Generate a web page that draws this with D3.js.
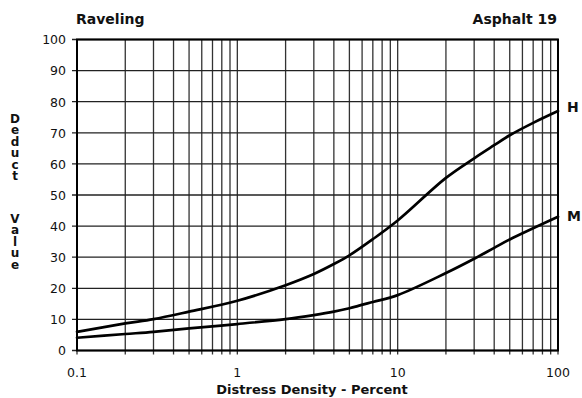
<!DOCTYPE html>
<html>
<head>
<meta charset="utf-8">
<script src="https://cdn.jsdelivr.net/npm/d3@7"></script>
<style>
  html, body { margin: 0; padding: 0; background: #fff; }
  svg { display: block; }
  text { font-family: "DejaVu Sans", Verdana, sans-serif; fill: #111; }
  .stacked { writing-mode: vertical-rl; text-orientation: upright; }
</style>
</head>
<body>
<svg id="chart" width="582" height="398"></svg>
<script>
// Raveling deduct value curves, Asphalt 19
const densityH = [0.1, 0.2, 0.3, 0.5, 1, 2, 3, 4, 5, 7, 10, 20, 30, 40, 50, 70, 100];
const deductH  = [6.0, 8.7, 10.1, 12.5, 16.0, 21.0, 24.6, 27.8, 30.6, 35.8, 41.8, 55.5, 61.8, 66.0, 69.2, 73.2, 77.0];
const densityM = [0.1, 0.2, 0.3, 0.5, 1, 2, 3, 4, 5, 7, 10, 20, 30, 40, 50, 100];
const deductM  = [4.1, 5.3, 6.0, 7.1, 8.5, 10.1, 11.4, 12.5, 13.6, 15.6, 17.8, 24.9, 29.5, 33.0, 35.7, 43.0];
const xTickLabels = [0.1, 1, 10, 100];
const yTicks = [0, 10, 20, 30, 40, 50, 60, 70, 80, 90, 100];

const svg = d3.select("#chart");
const plotL = 77, plotR = 558, plotT = 39.5, plotB = 350.5;

const x = d3.scaleLog().domain([0.1, 100]).range([plotL, plotR]);
const y = d3.scaleLinear().domain([0, 100]).range([plotB, plotT]);

// every 1..9 x 10^n line of the log grid
const xGrid = x.ticks();

const grid = svg.append("g").attr("stroke-width", 1.3);
grid.selectAll("line.v").data(xGrid).join("line")
  .attr("class", "v").attr("stroke", "#333")
  .attr("x1", d => x(d)).attr("x2", d => x(d))
  .attr("y1", plotT).attr("y2", plotB + 4);
grid.selectAll("line.h").data(yTicks).join("line")
  .attr("class", "h").attr("stroke", "#222")
  .attr("x1", plotL - 5).attr("x2", plotR)
  .attr("y1", d => y(d)).attr("y2", d => y(d));

// frame
svg.append("rect")
  .attr("x", plotL).attr("y", plotT)
  .attr("width", plotR - plotL).attr("height", plotB - plotT)
  .attr("fill", "none").attr("stroke", "#000").attr("stroke-width", 2);

// tick labels
svg.append("g").selectAll("text").data(yTicks).join("text")
  .attr("x", 66).attr("y", d => y(d) + 4.8)
  .attr("text-anchor", "end").attr("font-size", 12.5)
  .text(d => d);
svg.append("g").selectAll("text").data(xTickLabels).join("text")
  .attr("x", d => x(d)).attr("y", 377)
  .attr("text-anchor", "middle").attr("font-size", 12.5)
  .text(d => d);

// curves
const line = d3.line()
  .x(d => x(d[0])).y(d => y(d[1]))
  .curve(d3.curveCatmullRom.alpha(0.5));
const seriesH = densityH.map((d, i) => [d, deductH[i]]);
const seriesM = densityM.map((d, i) => [d, deductM[i]]);
svg.append("g").selectAll("path").data([seriesH, seriesM]).join("path")
  .attr("d", line)
  .attr("fill", "none").attr("stroke", "#000").attr("stroke-width", 2.7)
  .attr("stroke-linecap", "round");

// curve labels
svg.append("text").attr("x", 567).attr("y", y(deductH[deductH.length - 1]) + 1)
  .attr("font-size", 14).attr("font-weight", "bold").text("H");
svg.append("text").attr("x", 567).attr("y", y(deductM[deductM.length - 1]) + 4)
  .attr("font-size", 14).attr("font-weight", "bold").text("M");

// titles
svg.append("text").attr("x", 76).attr("y", 24)
  .attr("font-size", 14).attr("font-weight", "bold").text("Raveling");
svg.append("text").attr("x", 557).attr("y", 24)
  .attr("text-anchor", "end")
  .attr("font-size", 14).attr("font-weight", "bold").text("Asphalt 19");
svg.append("text").attr("x", 312).attr("y", 394)
  .attr("text-anchor", "middle")
  .attr("font-size", 13).attr("font-weight", "bold").text("Distress Density - Percent");

// vertical stacked axis title, letters upright
const yTitleWords = [{ word: "Deduct", y0: 112 }, { word: "Value", y0: 212 }];
svg.append("g").selectAll("text").data(yTitleWords).join("text")
  .attr("class", "stacked")
  .attr("x", 15).attr("y", d => d.y0)
  .attr("font-size", 12).attr("font-weight", "bold")
  .style("letter-spacing", "-2.6px")
  .text(d => d.word);
</script>
</body>
</html>
